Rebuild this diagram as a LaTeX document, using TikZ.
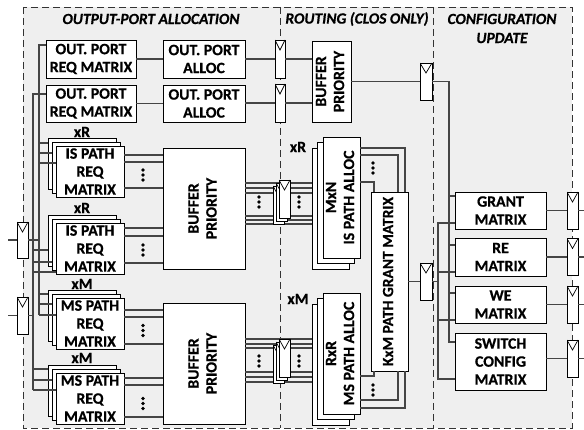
\documentclass[tikz,border=0pt]{standalone}
\usepackage{fontspec}
\usepackage{graphicx}
\setmainfont{Carlito}[BoldFeatures={FakeBold=0.6},BoldItalicFeatures={FakeBold=0.6}]
\usetikzlibrary{calc}
\definecolor{bgc}{HTML}{EFEFEF}
\definecolor{wirec}{HTML}{454545}
\newcommand\txtfont{\bfseries\fontsize{15.8}{18}\selectfont}
\newcommand\rtxt[1]{\rotatebox{90}{\begin{tabular}{@{}c@{}}#1\end{tabular}}}
\begin{document}
\begin{tikzpicture}[x=1pt,y=-1pt,
  box/.style={draw=black, fill=white, line width=0.9pt, inner sep=0pt, align=center, font=\txtfont},
  sbox/.style={box, minimum width=68, minimum height=51},
  vbox/.style={box, minimum width=37, minimum height=121},
  reg/.style={draw=black, fill=white, line width=0.8pt, inner sep=0pt, minimum width=11, minimum height=37,
    path picture={\draw[line width=0.7pt] (path picture bounding box.north west) -- ([yshift=-10pt]path picture bounding box.north) -- (path picture bounding box.north east);}},
  wire/.style={draw=wirec, line width=1.1pt},
  dashline/.style={draw=black!80, line width=0.9pt, dash pattern=on 7pt off 4pt},
  lbl/.style={font=\txtfont, inner sep=0pt},
  hdr/.style={font=\bfseries\itshape\fontsize{15.5}{19}\selectfont, inner sep=0pt, align=center}]
\useasboundingbox (0,0) rectangle (584,430);
% background and section borders
\path[fill=bgc] (23,7) rectangle (572,428);
\draw[dashline] (23,7) rectangle (572,428);
\draw[dashline] (280,7) -- (280,428);
\draw[dashline] (433,7) -- (433,428);
% headers
\node[hdr] (h1) at (151,19) {OUTPUT-PORT ALLOCATION};
\node[hdr] (h2) at (357,19) {ROUTING (CLOS ONLY)};
\node[hdr] (h3) at (502,28.5) {CONFIGURATION\\UPDATE};
% output port allocation
\node[box, minimum width=90, minimum height=38] (opr1) at (91,59) {OUT. PORT\\REQ MATRIX};
\node[box, minimum width=90, minimum height=37] (opr2) at (91,103.5) {OUT. PORT\\REQ MATRIX};
\node[box, minimum width=82, minimum height=38] (opa1) at (204,59) {OUT. PORT\\ALLOC};
\node[box, minimum width=82, minimum height=37] (opa2) at (204,103.5) {OUT. PORT\\ALLOC};
\node[reg, minimum width=10, minimum height=38] (rt1) at (280,59) {};
\node[reg, minimum width=10, minimum height=38] (rt2) at (280,103) {};
\node[box, minimum width=39, minimum height=81] (bpt) at (331.5,81.5) {\rtxt{BUFFER\\PRIORITY}};
\node[reg, minimum width=12] (rtr) at (426,81.5) {};
% request matrix stacks
\node[sbox] (is1a) at (82,163.5) {};
\node[sbox] (is1b) at (86,167.5) {};
\node[sbox] (is1c) at (90,171.5) {IS PATH\\REQ\\MATRIX};
\node[sbox] (is2a) at (82,240.5) {};
\node[sbox] (is2b) at (86,244.5) {};
\node[sbox] (is2c) at (90,248.5) {IS PATH\\REQ\\MATRIX};
\node[sbox] (ms1a) at (82,315.5) {};
\node[sbox] (ms1b) at (86,319.5) {};
\node[sbox] (ms1c) at (90,323.5) {MS PATH\\REQ\\MATRIX};
\node[sbox] (ms2a) at (82,390.5) {};
\node[sbox] (ms2b) at (86,394.5) {};
\node[sbox] (ms2c) at (90,398.5) {MS PATH\\REQ\\MATRIX};
\node[lbl] (lx1) at (82,132) {xR};
\node[lbl] (lx2) at (82,208) {xR};
\node[lbl] (lx3) at (82,284) {xM};
\node[lbl] (lx4) at (82,358) {xM};
\node[box, minimum width=82, minimum height=121] (bp1) at (204,208.5) {\rtxt{BUFFER\\PRIORITY}};
\node[box, minimum width=82, minimum height=121] (bp2) at (204,363.5) {\rtxt{BUFFER\\PRIORITY}};
% routing stacks
\node[vbox] (mxna) at (330.5,208.5) {};
\node[vbox] (mxnb) at (336,203) {};
\node[vbox] (mxnc) at (341.5,197.5) {\rtxt{MxN\\IS PATH ALLOC}};
\node[vbox] (rxra) at (330.5,364.5) {};
\node[vbox] (rxrb) at (336,359) {};
\node[vbox] (rxrc) at (341.5,353.5) {\rtxt{RxR\\MS PATH ALLOC}};
\node[lbl] (lx5) at (298,147) {xR};
\node[lbl] (lx6) at (298,299) {xM};
\node[box, minimum width=37, minimum height=179, font=\bfseries\fontsize{15.5}{18}\selectfont] (kxm) at (389.5,281.5) {\rtxt{KxM PATH GRANT MATRIX}};
\node[reg, minimum width=12] (rtm) at (426,281.5) {};
% configuration update
\node[box, minimum width=91, minimum height=37] (grant) at (500.5,210.5) {GRANT\\MATRIX};
\node[box, minimum width=91, minimum height=38] (re) at (500.5,257) {RE\\MATRIX};
\node[box, minimum width=91, minimum height=37] (we) at (500.5,304.5) {WE\\MATRIX};
\node[box, minimum width=91, minimum height=57] (sw) at (500.5,361.5) {SWITCH\\CONFIG\\MATRIX};
\node[reg] (rg) at (572.5,210.5) {};
\node[reg] (rr) at (572.5,257) {};
\node[reg] (rw) at (572.5,304.5) {};
\node[reg] (rs) at (572.5,358.5) {};
\node[reg, minimum height=36] (rl1) at (22.5,240) {};
\node[reg] (rl2) at (22.5,315.5) {};
% free ends
\coordinate (in1) at (8,240);
\coordinate (in2) at (8,315.5);
\coordinate (o1) at (584,210.5);
\coordinate (o2) at (584,257);
\coordinate (o3) at (584,304.5);
\coordinate (o4) at (584,358.5);
\coordinate (busA) at (449,342);
\coordinate (busB1) at (438,223);
\coordinate (busB2) at (438,379);
% wires: top rows
\draw[wire] (opr1.east) -- (opa1.west);
\draw[wire] (opr2.east) -- (opa2.west);
\draw[wire] (opa1.east) -- (rt1.west);
\draw[wire] (opa2.east |- rt2.west) -- (rt2.west);
\draw[wire] (rt1.east) -- (bpt.west |- rt1.east);
\draw[wire] (rt2.east) -- (bpt.west |- rt2.east);
\draw[wire] (bpt.east |- rtr.west) -- (rtr.west);
% left inputs and buses
\draw[wire] (in1) -- (rl1.west);
\draw[wire] (in2) -- (rl2.west);
\draw[wire] (rl1.east) -- (39,240);
\draw[wire] (rl2.east) -- (33,315.5);
\draw[wire] (opr1.west |- 0,45) -| (39,315);
\draw[wire] (opr2.west |- 0,94) -| (33,390);
\draw[wire] (39,143) -- (is1a.west |- 0,143);
\draw[wire] (39,153) -- (is1b.west |- 0,153);
\draw[wire] (39,163) -- (is1c.west |- 0,163);
\draw[wire] (33,250) -- (is2a.west |- 0,250);
\draw[wire] (33,262) -- (is2b.west |- 0,262);
\draw[wire] (33,272) -- (is2c.west |- 0,272);
\draw[wire] (39,294) -- (ms1a.west |- 0,294);
\draw[wire] (39,304) -- (ms1b.west |- 0,304);
\draw[wire] (39,315) -- (ms1c.west |- 0,315);
\draw[wire] (33,369) -- (ms2a.west |- 0,369);
\draw[wire] (33,380) -- (ms2b.west |- 0,380);
\draw[wire] (33,390) -- (ms2c.west |- 0,390);
% stacks to buffer priority
\foreach \yy in {155,162,188} \draw[wire] (is1c.east |- 0,\yy) -- (bp1.west |- 0,\yy);
\foreach \yy in {228,236,263} \draw[wire] (is2c.east |- 0,\yy) -- (bp1.west |- 0,\yy);
\foreach \yy in {310,317,344} \draw[wire] (ms1c.east |- 0,\yy) -- (bp2.west |- 0,\yy);
\foreach \yy in {378,385,417} \draw[wire] (ms2c.east |- 0,\yy) -- (bp2.west |- 0,\yy);
% buffer priority to routing
\foreach \yy in {183,188,193,216,220,224} \draw[wire] (bp1.east |- 0,\yy) -- (mxna.west |- 0,\yy);
\foreach \yy in {339,344,348,372,377,382} \draw[wire] (bp2.east |- 0,\yy) -- (rxra.west |- 0,\yy);
% stacked registers
\node[reg, minimum height=38] (ira) at (278.5,205) {};
\node[reg, minimum height=38] (irb) at (281.5,202) {};
\node[reg, minimum height=38] (irc) at (284.5,199) {};
\node[reg, minimum height=38] (mra) at (278.5,364) {};
\node[reg, minimum height=38] (mrb) at (281.5,361) {};
\node[reg, minimum height=38] (mrc) at (284.5,358) {};
% routing to grant matrix
\draw[wire] (mxnc.east |- 0,148) -| (kxm.north -| 405,0);
\draw[wire] (mxnc.east |- 0,155) -| (kxm.north -| 398,0);
\draw[wire] (mxnc.east |- 0,182) -| (kxm.north -| 374,0);
\draw[wire] (rxrc.east |- 0,376) -| (kxm.south -| 374,0);
\draw[wire] (rxrc.east |- 0,400) -| (kxm.south -| 398,0);
\draw[wire] (rxrc.east |- 0,408) -| (kxm.south -| 405,0);
\draw[wire] (kxm.east |- rtm.west) -- (rtm.west);
% configuration buses
\draw[wire] (rtr.east) -| (busA) -- (sw.west |- busA);
\draw[wire] (busA |- 0,196) -- (grant.west |- 0,196);
\draw[wire] (busA |- 0,245) -- (re.west |- 0,245);
\draw[wire] (busA |- 0,293) -- (we.west |- 0,293);
\draw[wire] (grant.west |- busB1) -- (busB1) -- (busB2) -- (sw.west |- busB2);
\draw[wire] (busB1 |- 0,272) -- (re.west |- 0,272);
\draw[wire] (busB1 |- 0,320) -- (we.west |- 0,320);
\draw[wire] (rtm.east) -- (busB1 |- rtm.east);
\draw[wire] (grant.east) -- (rg.west);
\draw[wire] (re.east) -- (rr.west);
\draw[wire] (we.east) -- (rw.west);
\draw[wire] (sw.east |- rs.west) -- (rs.west);
\draw[wire] (rg.east) -- (o1);
\draw[wire] (rr.east) -- (o2);
\draw[wire] (rw.east) -- (o3);
\draw[wire] (rs.east) -- (o4);
% ellipsis dots
\foreach \px/\py in {143/175,143/250,143/330.5,143/403.5,259/202,299/202,259/361,299/361,373/168,373/390}
  \foreach \dd in {-5,0,5} \fill (\px,\py+\dd) circle (1.8pt);
\end{tikzpicture}
\end{document}
